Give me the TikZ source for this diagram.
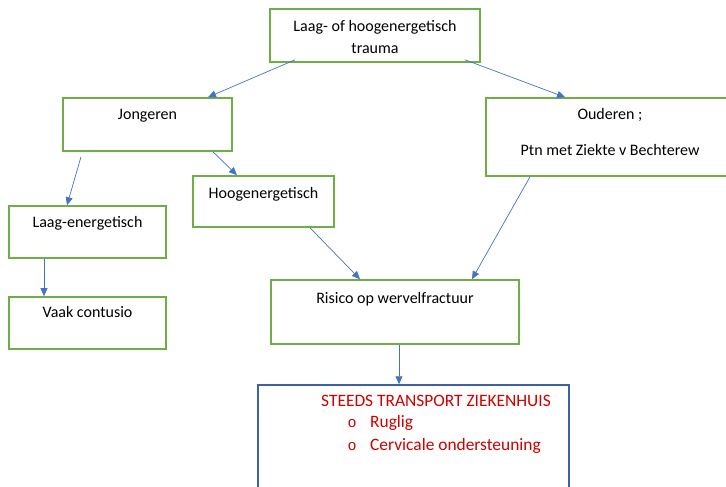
\documentclass[tikz,border=0pt]{standalone}
\usepackage{fontspec}
\setmainfont{Carlito}
\newfontfamily\bulletfont{Liberation Mono}
\usetikzlibrary{arrows.meta}

\definecolor{boxgreen}{RGB}{112,173,71}
\definecolor{linkblue}{RGB}{68,114,196}
\definecolor{frameblue}{RGB}{62,96,166}
\definecolor{alertred}{RGB}{204,0,0}

\begin{document}
\begin{tikzpicture}[x=1pt,y=-1pt,
  box/.style={draw=boxgreen, line width=1.6pt, rectangle, inner sep=0pt},
  framebox/.style={draw=frameblue, line width=1.5pt, rectangle, inner sep=0pt},
  txt/.style={font=\fontsize{16}{21}\selectfont, inner sep=0pt, anchor=base},
  redtxt/.style={font=\fontsize{17.4}{22}\selectfont, inner sep=0pt, text=alertred, anchor=base west},
  bulletmark/.style={font=\bulletfont\fontsize{15}{21}\selectfont, text=alertred, inner sep=0pt, anchor=base},
  link/.style={draw=linkblue, line width=0.7pt, -{Triangle[length=8pt,width=7pt]}},
]
\useasboundingbox (0,0) rectangle (726,487);
\clip (0,0) rectangle (726,487);

% boxes
\node[box, minimum width=210, minimum height=53] (trauma) at (375,35.5) {};
\node[box, minimum width=169, minimum height=53] (jong)   at (147.5,124.5) {};
\node[box, minimum width=248, minimum height=78] (oud)    at (610,137) {};
\node[box, minimum width=141, minimum height=51] (hoog)   at (263.5,201.5) {};
\node[box, minimum width=157, minimum height=52] (laag)   at (87.5,232) {};
\node[box, minimum width=157, minimum height=52] (vaak)   at (87.5,323) {};
\node[box, minimum width=248, minimum height=64] (ris)    at (395,312) {};
\node[framebox, minimum width=311, minimum height=125] (steeds) at (413.5,447.5) {};

% box texts
\node[txt] (traumaA) at (375,31.7) {Laag- of hoogenergetisch};
\node[txt] (traumaB) at (375,53.5) {trauma};
\node[txt] (jongT)   at (147.5,119) {Jongeren};
\node[txt] (oudA)    at (610,120) {Ouderen ;};
\node[txt] (oudB)    at (610,155) {Ptn met Ziekte v Bechterew};
\node[txt] (hoogT)   at (263.5,198) {Hoogenergetisch};
\node[txt] (laagT)   at (87.5,227) {Laag-energetisch};
\node[txt] (vaakT)   at (87.5,317) {Vaak contusio};
\node[txt] (risT)    at (395,303) {Risico op wervelfractuur};

\node[redtxt] (steedsT) at (321,406) {STEEDS TRANSPORT ZIEKENHUIS};
\node[bulletmark] (bulA) at (352,427) {o};
\node[redtxt] (rugT) at (370,427) {Ruglig};
\node[bulletmark] (bulB) at (352,450) {o};
\node[redtxt] (cervT) at (370,450) {Cervicale ondersteuning};

% connectors
\draw[link] ([shift={(-80,-3)}]trauma.south) -- ([xshift=60.5pt]jong.north);
\draw[link] ([shift={(90,-3)}]trauma.south) -- ([xshift=-45pt]oud.north);
\draw[link] ([shift={(-66.5,5)}]jong.south) -- ([xshift=-20.5pt]laag.north);
\draw[link] ([xshift=65.5pt]jong.south) -- ([xshift=-26.5pt]hoog.north);
\draw[link] ([xshift=-43.5pt]laag.south) -- ([xshift=-43.5pt]vaak.north);
\draw[link] ([xshift=46.5pt]hoog.south) -- ([xshift=-35pt]ris.north);
\draw[link] ([xshift=-80pt]oud.south) -- ([xshift=77pt]ris.north);
\draw[link] ([xshift=4pt]ris.south) -- ([xshift=-14.5pt]steeds.north);
\end{tikzpicture}
\end{document}
